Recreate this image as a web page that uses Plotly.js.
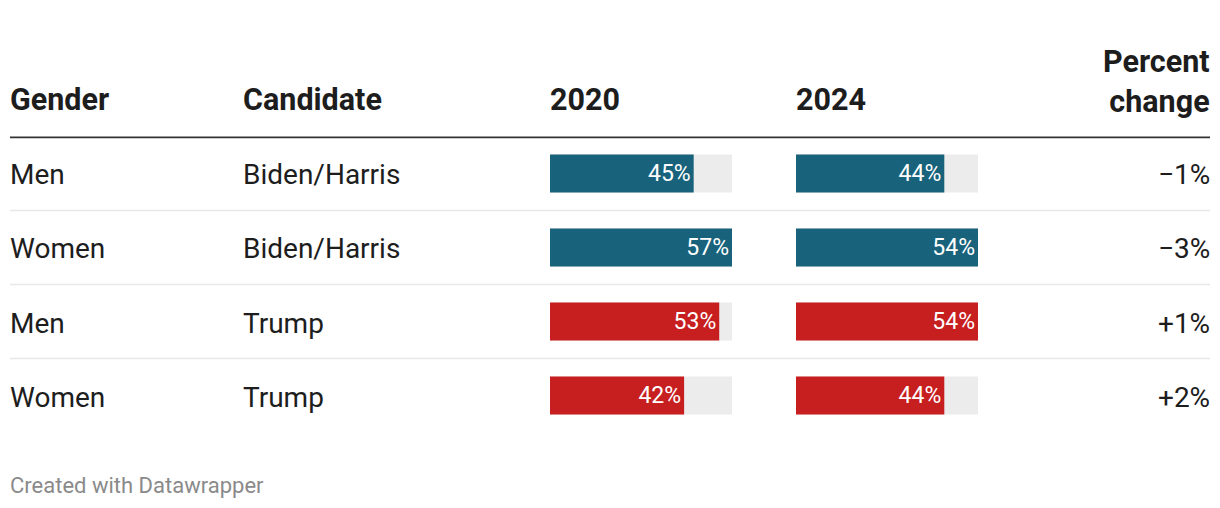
<!DOCTYPE html>
<html>
<head>
<meta charset="utf-8">
<script src="https://cdn.plot.ly/plotly-3.0.1.min.js"></script>
<style>
  html, body { margin: 0; padding: 0; background: #fff; }
  #chart { width: 1220px; height: 508px; }
</style>
</head>
<body>
<div id="chart"></div>
<script>
// ---- data ----
const genders = ['Men', 'Women', 'Men', 'Women'];
const candidates = ['Biden/Harris', 'Biden/Harris', 'Trump', 'Trump'];
const values2020 = [45, 57, 53, 42];
const values2024 = [44, 54, 54, 44];
const percentChange = [-1, -3, 1, 2];
const headers = ['Gender', 'Candidate', '2020', '2024', 'Percent<br>change'];
const footer = 'Created with Datawrapper';

// ---- styles ----
const W = 1220, H = 508;
const candidateColors = { 'Biden/Harris': '#18627b', 'Trump': '#c71e1f' };
const textColor = '#1d1d1d';
const font = 'Roboto, "Open Sans", sans-serif';
const rows = genders.map((_, i) => i);
const rowTop = 136.5, rowH = 74;
const barW = 38 / rowH;

const px = x => x / W;
const py = y => 1 - y / H;

const colX = { gender: 9, candidate: 242, y2020: 549, y2024: 795, change: 1211 };

const fmtChange = v => (v < 0 ? '\u2212' : '+') + Math.abs(v) + '%';

const barColors = candidates.map(c => candidateColors[c]);

const traces = [
  {
    type: 'bar', orientation: 'h', x: values2020, y: rows, xaxis: 'x', yaxis: 'y',
    marker: { color: barColors }, width: barW,
    texttemplate: '%{x}%', textposition: 'inside', insidetextanchor: 'end',
    insidetextfont: { color: '#ffffff', size: 23, family: font },
    constraintext: 'none', hoverinfo: 'skip'
  },
  {
    type: 'bar', orientation: 'h', x: values2024, y: rows, xaxis: 'x2', yaxis: 'y',
    marker: { color: barColors }, width: barW,
    texttemplate: '%{x}%', textposition: 'inside', insidetextanchor: 'end',
    insidetextfont: { color: '#ffffff', size: 23, family: font },
    constraintext: 'none', hoverinfo: 'skip'
  }
];

const shapes = [];
// background tracks
['x', 'x2'].forEach(ax => {
  rows.forEach(i => {
    shapes.push({
      type: 'rect', layer: 'below', xref: ax + ' domain', yref: 'y',
      x0: 0, x1: 1, y0: i - barW / 2, y1: i + barW / 2,
      fillcolor: '#ececec', line: { width: 0 }
    });
  });
});
// header rule
shapes.push({
  type: 'line', xref: 'paper', yref: 'y', x0: px(10), x1: px(1210), y0: -0.5, y1: -0.5,
  line: { color: '#333333', width: 3.7 }
});
// row separators
rows.slice(0, -1).forEach(i => {
  shapes.push({
    type: 'line', xref: 'paper', yref: 'y', x0: px(10), x1: px(1210), y0: i + 0.5, y1: i + 0.5,
    line: { color: '#e8e8e8', width: 1.5 }
  });
});

const annotations = [];
const headerXs = [colX.gender, colX.candidate, colX.y2020, colX.y2024, colX.change];
headers.forEach((h, j) => {
  const right = j === headers.length - 1;
  const multi = h.indexOf('<br>') >= 0;
  annotations.push({
    xref: 'paper', yref: 'paper', x: px(headerXs[j]), y: py(multi ? 82 : 100),
    xanchor: right ? 'right' : 'left', yanchor: 'middle', align: right ? 'right' : 'left',
    text: '<b>' + h + '</b>', showarrow: false, borderpad: 0,
    font: { family: font, size: 30.5, color: textColor }
  });
});
rows.forEach(i => {
  annotations.push({
    xref: 'paper', yref: 'y', x: px(colX.gender), y: i, xanchor: 'left', yanchor: 'middle', borderpad: 0, yshift: -1.5,
    text: genders[i], showarrow: false, font: { family: font, size: 28, color: textColor }
  });
  annotations.push({
    xref: 'paper', yref: 'y', x: px(colX.candidate), y: i, xanchor: 'left', yanchor: 'middle', borderpad: 0, yshift: -1.5,
    text: candidates[i], showarrow: false, font: { family: font, size: 28, color: textColor }
  });
  annotations.push({
    xref: 'paper', yref: 'y', x: px(colX.change), y: i, xanchor: 'right', yanchor: 'middle', borderpad: 0, yshift: -1.5,
    text: fmtChange(percentChange[i]), showarrow: false, font: { family: font, size: 28, color: textColor }
  });
});
annotations.push({
  xref: 'paper', yref: 'paper', x: px(9), y: py(485), xanchor: 'left', yanchor: 'middle', borderpad: 0,
  text: footer, showarrow: false, font: { family: font, size: 22, color: '#8a8a8a' }
});

const layout = {
  width: W, height: H,
  margin: { l: 0, r: 0, t: 0, b: 0 },
  paper_bgcolor: '#ffffff', plot_bgcolor: 'rgba(0,0,0,0)',
  showlegend: false, barmode: 'overlay',
  xaxis: {
    domain: [px(550), px(732)], range: [0, Math.max(...values2020)],
    visible: false, fixedrange: true
  },
  xaxis2: {
    domain: [px(796), px(978)], range: [0, Math.max(...values2024)],
    visible: false, fixedrange: true, anchor: 'y'
  },
  yaxis: {
    domain: [py(rowTop + rowH * rows.length), py(rowTop)],
    range: [rows.length - 0.5, -0.5], visible: false, fixedrange: true
  },
  shapes: shapes,
  annotations: annotations,
  font: { family: font }
};

Plotly.newPlot('chart', traces, layout, { displayModeBar: false, staticPlot: true });
</script>
</body>
</html>
